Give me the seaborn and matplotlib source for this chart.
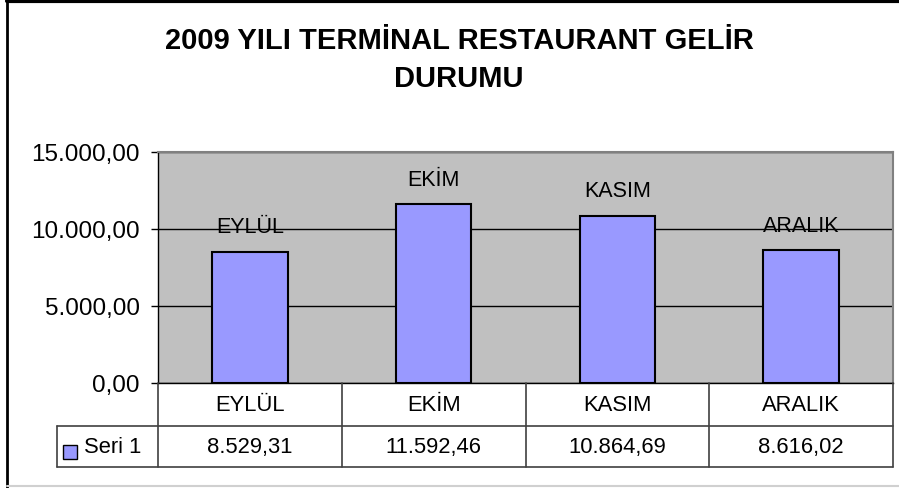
import pandas as pd
import matplotlib
matplotlib.use("Agg")
from matplotlib import pyplot as plt
from matplotlib import transforms
from matplotlib.lines import Line2D
from matplotlib.patches import Rectangle
from matplotlib.ticker import FuncFormatter
import seaborn as sns

# Data
months = ["EYLÜL", "EKİM", "KASIM", "ARALIK"]
gelir = [8529.31, 11592.46, 10864.69, 8616.02]
seri_adi = "Seri 1"
y_ticks = [0, 5000, 10000, 15000]
title_lines = ["2009 YILI TERMİNAL RESTAURANT GELİR", "DURUMU"]

BAR_COLOR = "#9999FF"


def tr_format(v, pos=None):
    # 11592.46 -> 11.592,46
    s = f"{v:,.2f}"
    return s.replace(",", "X").replace(".", ",").replace("X", ".")


sns.set_style("white")
plt.rcParams["font.family"] = ["Liberation Sans", "DejaVu Sans"]
plt.rcParams["text.color"] = "black"
plt.rcParams["ytick.color"] = "black"
plt.rcParams["xtick.color"] = "black"

W, H = 899, 489
fig = plt.figure(figsize=(W / 100, H / 100), dpi=100)


def fx(px):
    return px / W


def fy(py):
    return 1 - py / H


# plot area in pixel coords: x 158..893, y 153..384
ax = fig.add_axes([fx(158), fy(384), fx(893) - fx(158), fy(153) - fy(384)])
ax.set_facecolor("#C0C0C0")

df = pd.DataFrame({"Ay": months, "Gelir": gelir})
sns.barplot(data=df, x="Ay", y="Gelir", color=BAR_COLOR, saturation=1,
            width=0.41, edgecolor="black", linewidth=1.5, ax=ax, zorder=3)

ax.set_ylim(0, 15000)
ax.set_xlim(-0.5, len(months) - 0.5)
ax.set_yticks(y_ticks)
ax.yaxis.set_major_formatter(FuncFormatter(tr_format))
ax.yaxis.grid(True, color="black", lw=1)
ax.set_axisbelow(True)
ax.set_xlabel("")
ax.set_ylabel("")
ax.tick_params(axis="x", bottom=False, labelbottom=False)
ax.tick_params(axis="y", left=True, length=5, width=1, color="black",
               labelsize=17.5, labelcolor="black", pad=8)

for side in ["left", "bottom"]:
    ax.spines[side].set_color("black")
    ax.spines[side].set_linewidth(1)
for side in ["top", "right"]:
    ax.spines[side].set_color("#808080")
    ax.spines[side].set_linewidth(1.5)

# category name labels above the bars
for i, (m, v) in enumerate(zip(months, gelir)):
    ax.annotate(m, xy=(i, v), xytext=(0, 18), textcoords="offset points",
                ha="center", va="center", fontsize=15.5, color="black", zorder=5)

# data table under the plot
blend = transforms.blended_transform_factory(ax.transData, fig.transFigure)
line_kw = dict(color="#404040", lw=1.2)
for b in [i - 0.5 for i in range(len(months) + 1)]:
    fig.add_artist(Line2D([b, b], [fy(384), fy(468)], transform=blend, **line_kw))
for yy in [427, 468]:
    fig.add_artist(Line2D([fx(57), fx(893)], [fy(yy), fy(yy)], **line_kw))
fig.add_artist(Line2D([fx(57), fx(57)], [fy(427), fy(468)], **line_kw))

for i, (m, v) in enumerate(zip(months, gelir)):
    fig.text(i, fy(405.5), m, transform=blend, ha="center", va="center",
             fontsize=15.8, color="black")
    fig.text(i, fy(447.5), tr_format(v), transform=blend, ha="center", va="center",
             fontsize=15.8, color="black")

fig.add_artist(Rectangle((fx(63), fy(460)), 14 / W, 14 / H, transform=fig.transFigure,
                         facecolor=BAR_COLOR, edgecolor="black", lw=1))
fig.text(fx(84), fy(447.5), seri_adi, ha="left", va="center", fontsize=15.8,
         color="black")

# title, two lines
for yy, line in zip([41, 79], title_lines):
    fig.text(fx(459), fy(yy), line, ha="center", va="center", fontsize=21,
             fontweight="bold", color="black")

# chart border
fig.add_artist(Line2D([fx(7), fx(7)], [fy(2), fy(489)], color="black", lw=2))
fig.add_artist(Line2D([fx(7), fx(899)], [fy(2), fy(2)], color="black", lw=3))
fig.add_artist(Line2D([fx(7), fx(899)], [fy(487), fy(487)], color="#D0D0D0", lw=1.5))

fig.savefig("out.png", dpi=100)
